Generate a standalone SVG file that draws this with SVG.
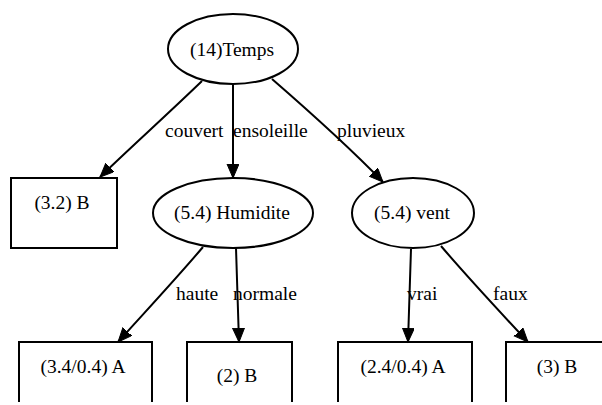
<svg xmlns="http://www.w3.org/2000/svg" width="602" height="405" viewBox="0 0 602 405">
  <style>
    .shape { fill: none; stroke: #000; stroke-width: 2; }
    .edge { fill: none; stroke: #000; stroke-width: 2; marker-end: url(#head); }
    text { font-family: 'Liberation Serif', 'DejaVu Serif', serif; font-size: 19.5px; fill: #000; }
    .c { text-anchor: middle; }
  </style>
  <defs>
    <marker id="head" markerUnits="userSpaceOnUse" markerWidth="16" markerHeight="14" refX="14" refY="6" orient="auto" viewBox="0 0 16 14">
      <path d="M0,0 L14,6 L0,12 z" fill="#000" stroke="#000" stroke-width="1"/>
    </marker>
    <clipPath id="page"><rect x="0" y="0" width="602" height="402"/></clipPath>
  </defs>
  <rect x="0" y="0" width="602" height="405" fill="#fff"/>
  <g clip-path="url(#page)">
    <g id="connectors">
      <path class="edge" d="M202,81 C170,112 130,148 100,177"/>
      <path class="edge" d="M233,84 L233,178"/>
      <path class="edge" d="M272,79 C310,112 350,148 383,182"/>
      <path class="edge" d="M203,247 C175,280 145,312 118,342"/>
      <path class="edge" d="M236,248 C237,280 238,310 239,342"/>
      <path class="edge" d="M411,249 C410,280 409,310 408,342"/>
      <path class="edge" d="M441,246 C470,280 500,312 528,342"/>
      <text x="165" y="137">couvert</text>
      <text x="233" y="137">ensoleille</text>
      <text x="337" y="137">pluvieux</text>
      <text x="176" y="300">haute</text>
      <text x="233" y="300">normale</text>
      <text x="407" y="300">vrai</text>
      <text x="493" y="300">faux</text>
    </g>
    <g id="temps">
      <ellipse class="shape" cx="233" cy="49" rx="65" ry="35"/>
      <text class="c" x="232" y="56">(14)Temps</text>
    </g>
    <g id="couvert-b">
      <rect class="shape" x="11" y="178" width="106" height="70"/>
      <text class="c" x="62" y="209">(3.2) B</text>
    </g>
    <g id="humidite">
      <ellipse class="shape" cx="233" cy="213" rx="80" ry="35"/>
      <text class="c" x="232" y="219">(5.4) Humidite</text>
    </g>
    <g id="vent">
      <ellipse class="shape" cx="413" cy="213" rx="61" ry="35"/>
      <text class="c" x="412" y="219">(5.4) vent</text>
    </g>
    <g id="haute-a">
      <rect class="shape" x="19" y="342" width="133" height="80"/>
      <text class="c" x="83" y="373">(3.4/0.4) A</text>
    </g>
    <g id="normale-b">
      <rect class="shape" x="187" y="342" width="105" height="80"/>
      <text class="c" x="237" y="382">(2) B</text>
    </g>
    <g id="vrai-a">
      <rect class="shape" x="338" y="342" width="134" height="80"/>
      <text class="c" x="403" y="373">(2.4/0.4) A</text>
    </g>
    <g id="faux-b">
      <rect class="shape" x="506" y="342" width="102" height="80"/>
      <text class="c" x="557" y="373">(3) B</text>
    </g>
  </g>
</svg>
